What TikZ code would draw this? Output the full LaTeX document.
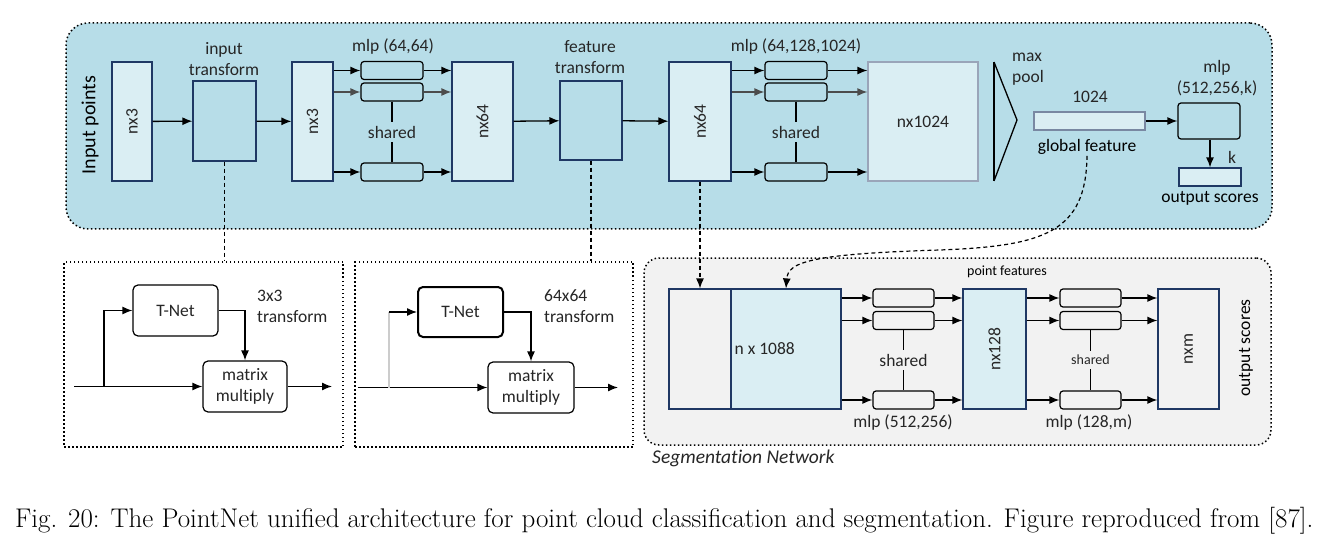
\documentclass[tikz,border=0pt]{standalone}
\usepackage{fontspec}
\setsansfont[RawFeature={-liga;-calt;-dlig}]{Carlito}
\usepackage{graphicx}
\usepackage{xcolor}
\usepackage{tikz}
\usetikzlibrary{arrows.meta}
\usetikzlibrary{shapes.geometric}
\definecolor{panelblue}{HTML}{B7DDE8}
\definecolor{cellblue}{HTML}{DAEEF3}
\definecolor{edgenavy}{HTML}{1F3864}
\definecolor{panelgray}{HTML}{F2F2F2}
\tikzset{
    lbl/.style = {font=\sffamily\fontsize{17.5}{21}\selectfont, align=center, inner sep=1pt, text=black!85},
    small_lbl/.style = {lbl, font=\sffamily\fontsize{14}{17}\selectfont},
    tensor_node/.style = {lbl, rectangle, draw=edgenavy, fill=cellblue, line width=1.2pt, inner sep=0pt},
    tf_node/.style = {tensor_node, fill=panelblue},
    mlp_node/.style = {rectangle, rounded corners=3pt, draw=black, fill=panelblue, line width=1.2pt, minimum width=62pt, minimum height=18pt, inner sep=0pt},
    op_node/.style = {lbl, rectangle, rounded corners=5pt, draw=black, fill=white, line width=1.2pt, inner sep=0pt},
    panel/.style = {rectangle, draw=black, line width=1.5pt, dash pattern=on 1.5pt off 2.5pt},
    link/.style = {->, line width=1.3pt},
    dash_link/.style = {line width=1.2pt, dash pattern=on 4pt off 3pt}
}

\begin{document}
\begin{tikzpicture}
    [x=1pt, y=-1pt, >={Latex[length=10pt, width=8pt]}]
    \useasboundingbox (0,0) rectangle (1336,540);

    % panels
    \node (cls_panel) [panel, fill=panelblue, rounded corners=22pt, minimum width=1206pt, minimum height=206pt] at (669,126) {};
    \node (tn1_panel) [panel, fill=white, minimum width=279pt, minimum height=185pt] at (203.5,354.5) {};
    \node (tn2_panel) [panel, fill=white, minimum width=278pt, minimum height=185pt] at (494,354.5) {};
    \node (seg_panel) [panel, fill=panelgray, rounded corners=15pt, minimum width=627pt, minimum height=187pt] at (957.5,351.5) {};

    % classification network
    \node (in_pts_lbl) [lbl, rotate=90, text=black, font=\sffamily\fontsize{20}{24}\selectfont] at (90,125) {Input points};
    \node (t_in) [tensor_node, minimum width=40pt, minimum height=119pt] at (132,121.5) {\rotatebox{90}{nx3}};
    \node (in_tf) [tf_node, minimum width=63pt, minimum height=80pt] at (224.5,121) {};
    \node (in_tf_lbl) [lbl] at (224,59.5) {input\\transform};
    \node (t_x3) [tensor_node, minimum width=41pt, minimum height=119pt] at (312.5,121.5) {\rotatebox{90}{nx3}};
    \node (m1a) [mlp_node] at (392,70.5) {};
    \node (m1b) [mlp_node] at (392,92) {};
    \node (m1c) [mlp_node] at (392,172) {};
    \node (mlp1_lbl) [lbl] at (393,47) {mlp (64,64)};
    \node (sh1) [lbl, inner sep=4pt] at (392,132) {shared};
    \node (nx64a) [tensor_node, minimum width=61pt, minimum height=119pt] at (482.5,121.5) {\rotatebox{90}{nx64}};
    \node (feat_tf) [tf_node, minimum width=62pt, minimum height=79pt] at (591,120.5) {};
    \node (feat_tf_lbl) [lbl] at (590,57.5) {feature\\transform};
    \node (nx64b) [tensor_node, minimum width=62pt, minimum height=119pt] at (700,121.5) {\rotatebox{90}{nx64}};
    \node (m2a) [mlp_node] at (796,70.5) {};
    \node (m2b) [mlp_node] at (796,92) {};
    \node (m2c) [mlp_node] at (796,172) {};
    \node (mlp2_lbl) [lbl] at (796,47) {mlp (64,128,1024)};
    \node (sh2) [lbl, inner sep=4pt] at (796,132) {shared};
    \node (nx1024) [tensor_node, draw=edgenavy!45, minimum width=110pt, minimum height=119pt] at (923,121.5) {nx1024};
    \draw[line width=1.3pt] (994,62) -- (1017,120) -- (994,181);
    \draw[line width=2.6pt] (994,62) -- (994,181);
    \node (pool_lbl) [lbl, anchor=west, align=left, inner sep=0pt] at (1012,69.5) {max\\pool};
    \node (gf_size) [lbl] at (1090,97) {1024};
    \node (gf) [tensor_node, draw=edgenavy!60, minimum width=111pt, minimum height=18pt] at (1089.5,121) {};
    \node (gf_lbl) [lbl, text=black] at (1087,147) {global feature};
    \node (cls_mlp) [mlp_node, minimum width=62pt, minimum height=36pt] at (1209,121) {};
    \node (cls_mlp_lbl) [lbl] at (1217,78) {mlp\\(512,256,k)};
    \node (k_lbl) [lbl] at (1232,157) {k};
    \node (out_bar) [tensor_node, minimum width=62pt, minimum height=18pt] at (1210,177) {};
    \node (out_lbl) [lbl, text=black] at (1210,198) {output scores};

    \draw[link] (t_in) -- (in_tf);
    \draw[link] (in_tf) -- (t_x3);
    \draw[link] (t_x3.east |- m1a) -- (m1a);
    \draw[link, black!70] (t_x3.east |- m1b) -- (m1b);
    \draw[link] (t_x3.east |- m1c) -- (m1c);
    \draw[link] (m1a) -- (nx64a.west |- m1a);
    \draw[link, black!70] (m1b) -- (nx64a.west |- m1b);
    \draw[link] (m1c) -- (nx64a.west |- m1c);
    \draw[line width=1.2pt] (m1b) -- (sh1) -- (m1c);
    \draw[link] (nx64a) -- (feat_tf);
    \draw[link] (feat_tf) -- (nx64b);
    \draw[link] (nx64b.east |- m2a) -- (m2a);
    \draw[link, black!70] (nx64b.east |- m2b) -- (m2b);
    \draw[link] (nx64b.east |- m2c) -- (m2c);
    \draw[link] (m2a) -- (nx1024.west |- m2a);
    \draw[link, black!70] (m2b) -- (nx1024.west |- m2b);
    \draw[link] (m2c) -- (nx1024.west |- m2c);
    \draw[line width=1.2pt] (m2b) -- (sh2) -- (m2c);
    \draw[link] (gf) -- (cls_mlp);
    \draw[link] (cls_mlp.south -| out_bar) -- (out_bar);

    % transform nets
    \node (tnet1) [op_node, minimum width=85pt, minimum height=51pt] at (175.5,310.5) {T-Net};
    \node (mm1) [op_node, minimum width=84pt, minimum height=51pt] at (245,386.5) {matrix\\multiply};
    \node (tf1_lbl) [lbl, anchor=west, align=left, inner sep=0pt] at (257,306) {3x3\\transform};
    \coordinate (in1) at (74,386.5);
    \coordinate (br1) at (104,386.5);
    \coordinate (out1) at (332,386.5);
    \draw[link] (in1) -- (mm1);
    \draw[link] (br1) |- (tnet1);
    \draw[link] (tnet1) -| (mm1);
    \draw[link] (mm1) -- (out1);

    \node (tnet2) [op_node, line width=2pt, minimum width=85pt, minimum height=50pt] at (460.5,312) {T-Net};
    \node (mm2) [op_node, minimum width=86pt, minimum height=51pt] at (531,387.5) {matrix\\multiply};
    \node (tf2_lbl) [lbl, anchor=west, align=left, inner sep=0pt] at (544,306) {64x64\\transform};
    \coordinate (in2) at (358,387.5);
    \coordinate (br2) at (389,387.5);
    \coordinate (out2) at (618,387.5);
    \draw[link] (in2) -- (mm2);
    \draw[line width=1.3pt, black!20] (br2) -- (br2 |- tnet2);
    \draw[link] (br2 |- tnet2) -- (tnet2);
    \draw[link] (tnet2) -| (mm2);
    \draw[link] (mm2) -- (out2);

    % segmentation network
    \node (seg_g) [tensor_node, fill=panelgray, minimum width=62pt, minimum height=120pt] at (700,349) {};
    \node (seg_feat) [tensor_node, minimum width=110pt, minimum height=120pt] at (786,349) {};
    \node (seg_feat_lbl) [lbl, anchor=west] at ([xshift=3pt]seg_feat.west) {n x 1088};
    \node (pf_lbl) [small_lbl, text=black] at (1007,272) {point features};
    \node (s1a) [mlp_node, fill=panelgray, minimum width=61pt] at (903.5,298) {};
    \node (s1b) [mlp_node, fill=panelgray, minimum width=61pt] at (903.5,320.5) {};
    \node (s1c) [mlp_node, fill=panelgray, minimum width=61pt] at (903.5,400) {};
    \node (sh3) [lbl, inner sep=4pt] at (903.5,360) {shared};
    \node (mlp3_lbl) [lbl] at (903,423) {mlp (512,256)};
    \node (seg_128) [tensor_node, minimum width=63pt, minimum height=120pt] at (994.5,349) {\rotatebox{90}{nx128}};
    \node (s2a) [mlp_node, fill=panelgray, minimum width=61pt] at (1090.5,298) {};
    \node (s2b) [mlp_node, fill=panelgray, minimum width=61pt] at (1090.5,320.5) {};
    \node (s2c) [mlp_node, fill=panelgray, minimum width=61pt] at (1090.5,400) {};
    \node (sh4) [small_lbl, inner sep=4pt] at (1090.5,360) {shared};
    \node (mlp4_lbl) [lbl] at (1089,423) {mlp (128,m)};
    \node (seg_m) [tensor_node, fill=panelgray, minimum width=61pt, minimum height=120pt] at (1188.5,349) {\rotatebox{90}{nxm}};
    \node (seg_out_lbl) [lbl, rotate=90, text=black] at (1246,348) {output scores};
    \node (seg_title) [lbl, anchor=west, font=\sffamily\itshape\fontsize{19.5}{23}\selectfont] at (651,458) {Segmentation Network};

    \draw[link] (seg_feat.east |- s1a) -- (s1a);
    \draw[link] (seg_feat.east |- s1b) -- (s1b);
    \draw[link] (seg_feat.east |- s1c) -- (s1c);
    \draw[link] (s1a) -- (seg_128.west |- s1a);
    \draw[link] (s1b) -- (seg_128.west |- s1b);
    \draw[link] (s1c) -- (seg_128.west |- s1c);
    \draw[line width=1.2pt] (s1b) -- (sh3) -- (s1c);
    \draw[link] (seg_128.east |- s2a) -- (s2a);
    \draw[link] (seg_128.east |- s2b) -- (s2b);
    \draw[link] (seg_128.east |- s2c) -- (s2c);
    \draw[link] (s2a) -- (seg_m.west |- s2a);
    \draw[link] (s2b) -- (seg_m.west |- s2b);
    \draw[link] (s2c) -- (seg_m.west |- s2c);
    \draw[line width=1.2pt] (s2b) -- (sh4) -- (s2c);

    % dashed links between panels
    \coordinate (gf_mid) at (940,250);
    \draw[dash_link] (in_tf.south) -- (in_tf.south |- tn1_panel.north);
    \draw[dash_link] (feat_tf.south) -- (feat_tf.south |- tn2_panel.north);
    \draw[dash_link, ->] (nx64b.south) -- (seg_g.north);
    \draw[dash_link, ->] (gf_lbl.south) .. controls (1086,232) and (1045,246) .. (gf_mid) .. controls (810,254) and (788,262) .. (seg_feat.north);

    \node (caption) [anchor=base west, inner sep=0pt, font=\rmfamily\fontsize{27}{31}\selectfont] at (15,527) {Fig. 20: The PointNet unified architecture for point cloud classification and segmentation. Figure reproduced from [87].};
\end{tikzpicture}
\end{document}
